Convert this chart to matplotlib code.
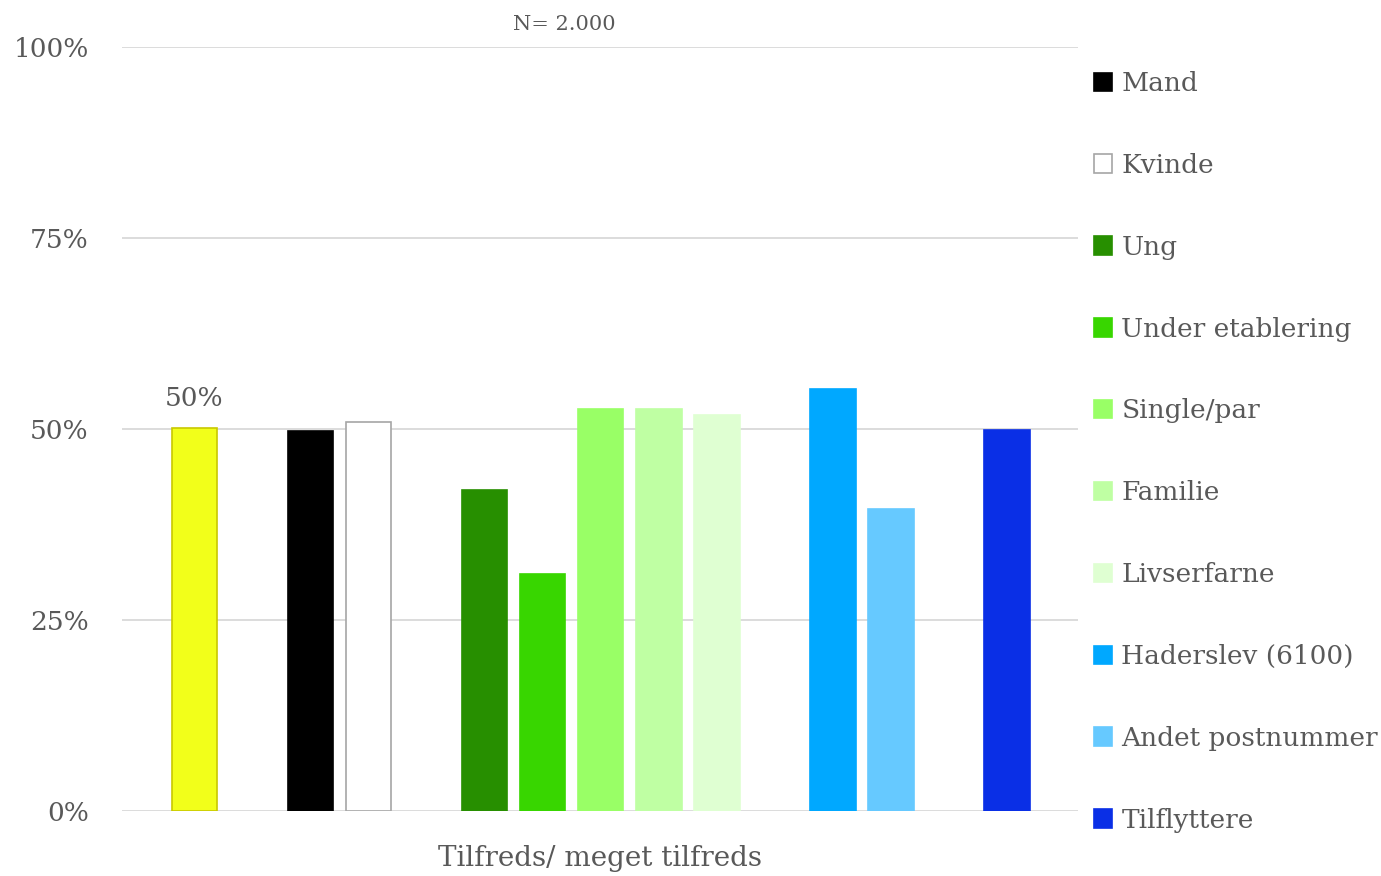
import matplotlib
matplotlib.use("Agg")
import matplotlib.pyplot as plt
from matplotlib.ticker import FixedLocator

plt.rcParams['font.family'] = ['DejaVu Serif']

category = "Tilfreds/ meget tilfreds"
series = ["Total", "Mand", "Kvinde", "Ung", "Under etablering", "Single/par",
          "Familie", "Livserfarne", "Haderslev (6100)", "Andet postnummer", "Tilflyttere"]
values = [50.1, 49.7, 50.9, 42.0, 31.0, 52.6, 52.6, 51.8, 55.2, 39.5, 49.9]
slots = [0, 2, 3, 5, 6, 7, 8, 9, 11, 12, 14]
colors = ["#f2ff1a", "#000000", "#ffffff", "#278f00", "#38d600", "#99ff66",
          "#bfffa3", "#dfffd2", "#00a8ff", "#66c9ff", "#0a2fe6"]
edges = ["#c8c800", "#000000", "#a6a6a6", "#278f00", "#38d600", "#99ff66",
         "#bfffa3", "#dfffd2", "#00a8ff", "#66c9ff", "#0a2fe6"]
yticks = [0, 25, 50, 75, 100]
ytick_labels = ["0%", "25%", "50%", "75%", "100%"]

txt = "#595959"
fig = plt.figure(figsize=(13.81, 8.76), dpi=100)
ax = fig.add_axes([122/1381, 1-811/876, (1078-122)/1381, (811-47)/876])

handles = []
for s, v, c, e, name in zip(slots, values, colors, edges, series):
    b = ax.bar(s, v, width=0.79, color=c, edgecolor=e, linewidth=1.2, zorder=3, label=name)
    handles.append(b)

ax.text(slots[0], values[0] + 2.3, "50%", ha="center", va="bottom", fontsize=19, color=txt)

ax.set_xlim(-1.25, 15.23)
ax.set_ylim(0, 100)
ax.yaxis.set_major_locator(FixedLocator(yticks))
ax.set_yticklabels(ytick_labels)
ax.set_xticks([])
ax.grid(axis="y", color="#d9d9d9", linewidth=1.3, zorder=0)
for sp in ax.spines.values():
    sp.set_visible(False)
ax.tick_params(axis="y", length=0, pad=24, labelsize=19, labelcolor=txt)

ax.text(0.5, -0.045, category, transform=ax.transAxes, ha="center", va="top",
        fontsize=20, color=txt)
fig.text(564/1381, 1-25/876, "N= 2.000", ha="center", va="center", fontsize=15, color=txt)

leg = fig.legend(handles[1:], series[1:], loc="upper left",
                 bbox_to_anchor=(1094/1381, 1-71/876), frameon=False,
                 fontsize=19, labelcolor=txt, handlelength=0.7, handleheight=0.7,
                 handletextpad=0.34, labelspacing=2.155, borderaxespad=0, borderpad=0)

fig.savefig("out.png", dpi=100)
